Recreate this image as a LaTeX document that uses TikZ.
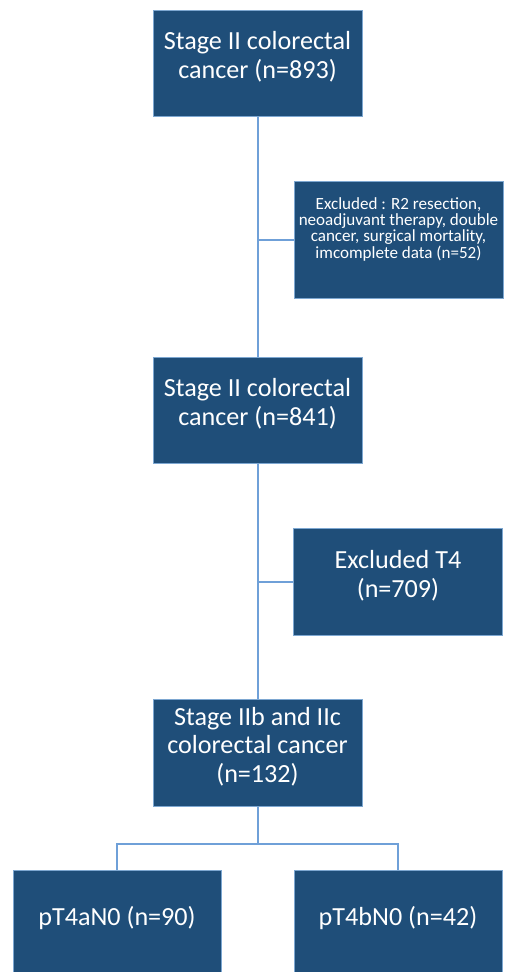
\documentclass[tikz,border=0pt]{standalone}
\usepackage{fontspec}
\setmainfont{Carlito}
\usepackage{tikz}
\definecolor{boxblue}{HTML}{1F4E79}
\definecolor{edgeblue}{HTML}{7DA7D1}
\definecolor{lineblue}{HTML}{6FA0D8}
\tikzset{
    flowbox/.style = {
        align=center,
        inner xsep=0pt,
        inner ysep=0pt,
        rectangle,
        fill=boxblue,
        draw=edgeblue,
        line width=0.5pt,
        text=white,
        minimum width=156.75pt,
        anchor=north,
        font=\fontsize{19.6}{21.5}\selectfont
    },
    smallbox/.style = {
        flowbox,
        font=\fontsize{12.8}{12.3}\selectfont
    },
    link/.style = {
        draw=lineblue,
        line width=1.5pt
    }
}

\begin{document}
\begin{tikzpicture}[x=0.75pt, y=-0.75pt]
            \useasboundingbox (0,0) rectangle (506,972);
            % boxes, top edge given in pixels
            \node [flowbox, text height=51pt, text depth=28.5pt] (stage1) at (257.5,10) {Stage II colorectal\\cancer (n=893)};
            \node [smallbox, text height=57.75pt, text depth=30pt] (excl1) at (398.5,181) {Excluded : R2 resection,\\neoadjuvant therapy, double\\cancer, surgical mortality,\\imcomplete data (n=52)};
            \node [flowbox, text height=51pt, text depth=28.5pt] (stage2) at (257.5,357) {Stage II colorectal\\cancer (n=841)};
            \node [flowbox, text height=51.75pt, text depth=28.5pt] (excl2) at (398,528) {Excluded T4\\(n=709)};
            \node [flowbox, text height=62.25pt, text depth=18pt] (stage3) at (257.5,699) {Stage IIb and IIc\\colorectal cancer\\(n=132)};
            \node [flowbox, minimum width=156pt, text height=41.25pt, text depth=38.25pt] (t4a) at (117,870) {pT4aN0 (n=90)};
            \node [flowbox, minimum width=156pt, text height=41.25pt, text depth=38.25pt] (t4b) at (398,870) {pT4bN0 (n=42)};
            \coordinate (fork) at (257.5,844);

            % connectors
            \draw [link] (stage1.south) -- (stage2.north);
            \draw [link] (excl1.west) -- (excl1.west -| stage1.south);
            \draw [link] (stage2.south) -- (stage3.north);
            \draw [link] (excl2.west) -- (excl2.west -| stage2.south);
            \draw [link] (stage3.south) -- (fork);
            \draw [link] (t4a.north) |- (fork) -| (t4b.north);
        \end{tikzpicture}
\end{document}
